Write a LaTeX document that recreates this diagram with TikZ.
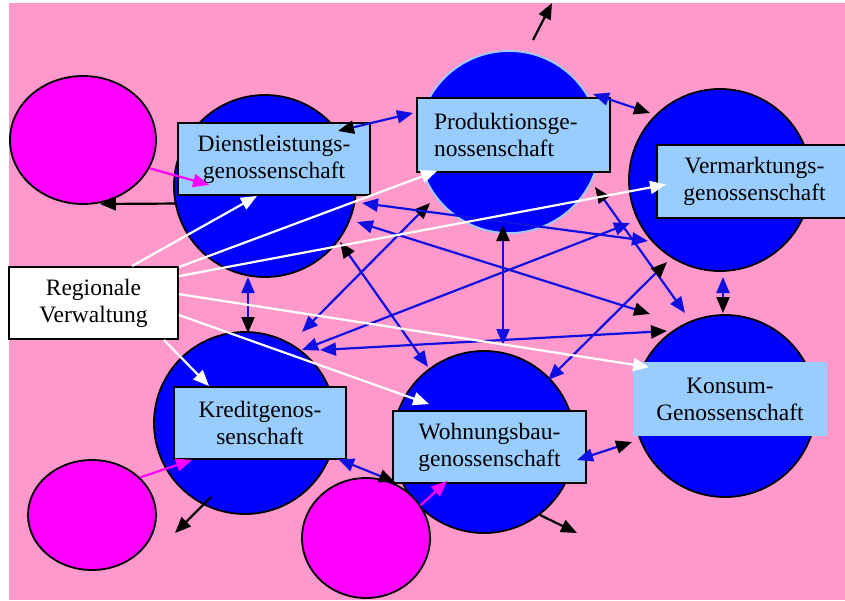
\documentclass[tikz,border=0pt]{standalone}
\usepackage{fontspec}
\setmainfont{Liberation Serif}
\usetikzlibrary{arrows.meta,calc,shapes.geometric}

\definecolor{bgpink}{HTML}{FF99CC}
\definecolor{coopblue}{HTML}{0000FF}
\definecolor{linkblue}{RGB}{15,15,225}
\definecolor{boxblue}{HTML}{99CCFF}
\definecolor{memberpink}{HTML}{FF00FF}

\tikzset{
  bk/.tip={Triangle[length=16pt,width=13pt,color=black]},
  bl/.tip={Triangle[length=16pt,width=13pt,color=linkblue]},
  wt/.tip={Triangle[length=16pt,width=13pt,color=white]},
  mg/.tip={Triangle[length=16pt,width=13pt,color=memberpink]},
  coop/.style={circle, draw=black, line width=1.8pt, fill=coopblue,
    minimum size=182pt, inner sep=0pt},
  member/.style={ellipse, draw=black, line width=1.8pt, fill=memberpink,
    inner sep=0pt},
  labelbox/.style={draw=black, line width=1.8pt, fill=boxblue,
    inner xsep=0pt, inner ysep=0pt, align=center,
    font=\fontsize{23.5}{27}\selectfont},
  link/.style={draw=linkblue, line width=2.2pt},
  govern/.style={draw=white, line width=2.2pt, -{wt}},
  feed/.style={draw=memberpink, line width=2.2pt, -{mg}},
  yield/.style={draw=black, line width=2.2pt, -{bk}},
}

\begin{document}
\begin{tikzpicture}[x=1pt,y=-1pt]
  \useasboundingbox (0,0) rectangle (845,600);
  \clip (0,0) rectangle (845,600);
  \fill[white] (0,0) rectangle (845,600);
  \fill[bgpink] (9,3) rectangle (845,600);

  % cooperatives
  \node[coop] (Dc) at (265,186) {};
  \node[coop, draw=boxblue] (Pc) at (509,142) {};
  \node[coop] (Vc) at (720,180) {};
  \node[coop] (Kc) at (725,406) {};
  \node[coop] (Krc) at (245,423) {};
  \node[coop] (Wc) at (484,442) {};

  % members
  \node[member, minimum width=146pt, minimum height=128pt] (E1) at (83,140) {};
  \node[member, minimum width=128pt, minimum height=110pt] (E2) at (92,515) {};
  \node[member, minimum width=128pt, minimum height=120pt] (E3) at (366,538) {};

  % labels
  \node[labelbox, minimum width=192pt, minimum height=72pt] (Db) at (274,159)
    {Dienstleistungs-\\genossenschaft};
  \node[labelbox, minimum width=193pt, minimum height=74pt, align=left,
    text width=159pt, inner xsep=17pt] (Pb) at (513.5,135)
    {Produktionsge-\\nossenschaft};
  \node[labelbox, minimum width=195pt, minimum height=73pt] (Vb) at (754.5,181.5)
    {Vermarktungs-\\genossenschaft};
  \node[labelbox, draw=none, minimum width=194pt, minimum height=74pt] (Kb) at (730,399)
    {Konsum-\\Genossenschaft};
  \node[labelbox, minimum width=172pt, minimum height=72pt] (Krb) at (260,423)
    {Kreditgenos-\\senschaft};
  \node[labelbox, minimum width=193pt, minimum height=72pt] (Wb) at (489.5,447)
    {Wohnungsbau-\\genossenschaft};
  \node[labelbox, fill=white, minimum width=169pt, minimum height=72pt] (RV) at (93.5,303)
    {Regionale\\Verwaltung};

  % links between the cooperatives
  \draw[link, {bk}-{bl}] ($(Db)+(64,-28)$) -- ($(Pb)+(-100.5,-22)$);
  \draw[link, {bl}-{bk}] ($(Pc)+(84,-48)$) -- ($(Vc)+(-70,-67)$);
  \draw[link, {bl}-{bk}] ($(Vc)+(3,97)$) -- ($(Kc)+(-2,-93)$);
  \draw[link, {bl}-{bk}] ($(Wb)+(87.5,13)$) -- ($(Kb)+(-98,43)$);
  \draw[link, {bl}-{bk}] ($(Krb)+(78,36)$) -- ($(Wb)+(-94.5,35)$);
  \draw[link, {bl}-{bk}] ($(Dc)+(-17,91)$) -- ($(Krc)+(3,-90)$);
  \draw[link, {bk}-{bl}] ($(Pc)+(-6,83)$) -- ($(Wc)+(19,-97)$);
  \draw[link, {bk}-{bl}] ($(Dc)+(75,56)$) -- ($(Wc)+(-56,-75)$);
  \draw[link, {bk}-{bl}] ($(Pc)+(-79,61)$) -- ($(Krc)+(57,-91)$);
  \draw[link, {bl}-{bk}] ($(Dc)+(92,36)$) -- ($(Kc)+(-75,-92)$);
  \draw[link, {bl}-{bl}] ($(Dc)+(97,17)$) -- ($(Vc)+(-72,61)$);
  \draw[link, {bk}-{bl}] ($(Pc)+(86,45)$) -- ($(Kc)+(-40,-93)$);
  \draw[link, {bl}-{bl}] ($(Krc)+(57,-73)$) -- ($(Vc)+(-90,43)$);
  \draw[link, {bl}-{bk}] ($(Wc)+(64,-62)$) -- ($(Vc)+(-53,82)$);
  \draw[link, {bl}-{bk}] ($(Krc)+(75,-73)$) -- ($(Kc)+(-58,-75)$);

  % administration
  \draw[govern] ($(RV.north east)+(-47,0)$) -- ($(Db.south)+(-17,0)$);
  \draw[govern] ($(RV.north east)+(0,1)$) -- ($(Pb.south west)+(21,-2)$);
  \draw[govern] ($(RV.north east)+(0,10)$) -- ($(Vb.west)+(10,3)$);
  \draw[govern] ($(RV.north east)+(0,28)$) -- ($(Kb.north west)+(17,6)$);
  \draw[govern] ($(RV.east)+(0,12)$) -- ($(Wb.north west)+(37,-6)$);
  \draw[govern] ($(RV.south east)+(-15,0)$) -- ($(Krb.north west)+(36,0)$);

  % members feeding in
  \draw[feed] (E1.-23) -- ($(Db.south west)+(32,-11)$);
  \draw[feed] (E2.38) -- ($(Krb.south west)+(19,0)$);
  \draw[feed] (E3.31) -- ($(Wb.south west)+(55,-3)$);

  % outputs
  \coordinate (pOut) at (552,3);
  \coordinate (dOut) at (100,204);
  \coordinate (krOut) at (175,533);
  \coordinate (wOut) at (577,533);
  \draw[yield] ($(Pc)+(24,-102)$) -- (pOut);
  \draw[yield] (Dc.191) -- (dOut);
  \draw[yield] ($(Krc)+(-34,74)$) -- (krOut);
  \draw[yield] ($(Wc)+(56,73)$) -- (wOut);
\end{tikzpicture}
\end{document}
